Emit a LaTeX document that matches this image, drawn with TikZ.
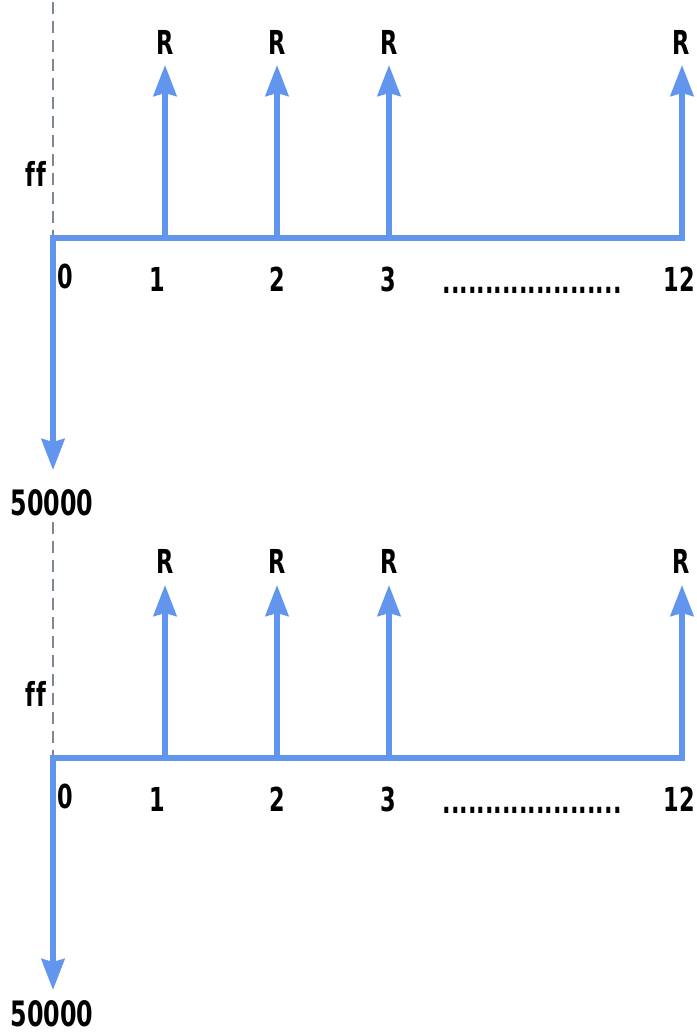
\documentclass[tikz,border=0pt]{standalone}
\usepackage{fontspec}
\setmainfont{DejaVu Sans}[FakeStretch=0.68,Ligatures=NoCommon]
\usepackage{xcolor}
\usetikzlibrary{arrows.meta}
\definecolor{flowblue}{RGB}{98,150,238}
\definecolor{guidegray}{RGB}{125,135,155}

\begin{document}
\begin{tikzpicture}[x=1pt,y=-1pt,
font=\fontsize{33}{38}\selectfont\bfseries,
flow/.style={draw=flowblue,line width=5.5pt},
pay/.style={flow,-{Stealth[length=31pt,width=23pt,inset=3pt]}},
frame/.style={flow,{Stealth[length=31pt,width=23pt,inset=3pt]}-{Stealth[length=31pt,width=23pt,inset=3pt]}},
guide/.style={draw=guidegray,line width=1.8pt,dash pattern=on 12pt off 7pt},
lbl/.style={inner sep=0pt},
big/.style={font=\fontsize{35}{40}\selectfont\bfseries}]
\useasboundingbox (0,0) rectangle (696,1035);
% upper diagram
\coordinate (topa) at (53,2); \coordinate (oa) at (53,238); \coordinate (ea) at (682,238);
\coordinate (ma) at (53,470);
\coordinate (b1a) at (165,238); \coordinate (b2a) at (277,238); \coordinate (b3a) at (389,238);
\coordinate (h1a) at (165,65); \coordinate (h2a) at (277,65); \coordinate (h3a) at (389,65);
\coordinate (h12a) at (682,65);
\draw[guide] (topa)--(oa);
\draw[frame] (h12a)--(ea)--(oa)--(ma);
\draw[pay] (b1a)--(h1a);\draw[pay] (b2a)--(h2a);\draw[pay] (b3a)--(h3a);
\node[lbl] (r1a) at (165,42) {R};
\node[lbl] (r2a) at (277,42) {R};
\node[lbl] (r3a) at (389,42) {R};
\node[lbl] (r12a) at (681,42) {R};
\node[lbl] (ffa) at (36,174) {f\kern1ptf};
\node[lbl] (n0a) at (65,276) {0};
\node[lbl] (n1a) at (157,279) {1};
\node[lbl] (n2a) at (277,279) {2};
\node[lbl] (n3a) at (388,279) {3};
\node[lbl] (dotsa) at (532,290) {.....................};
\node[lbl] (n12a) at (679,279) {12};
\node[lbl,big] (pva) at (52,503) {50000};
% lower diagram
\coordinate (topb) at (53,522); \coordinate (ob) at (53,758); \coordinate (eb) at (682,758);
\coordinate (mb) at (53,990);
\coordinate (b1b) at (165,758); \coordinate (b2b) at (277,758); \coordinate (b3b) at (389,758);
\coordinate (h1b) at (165,585); \coordinate (h2b) at (277,585); \coordinate (h3b) at (389,585);
\coordinate (h12b) at (682,585);
\draw[guide] (topb)--(ob);
\draw[frame] (h12b)--(eb)--(ob)--(mb);
\draw[pay] (b1b)--(h1b);\draw[pay] (b2b)--(h2b);\draw[pay] (b3b)--(h3b);
\node[lbl] (r1b) at (165,561) {R};
\node[lbl] (r2b) at (277,561) {R};
\node[lbl] (r3b) at (389,561) {R};
\node[lbl] (r12b) at (681,561) {R};
\node[lbl] (ffb) at (36,694) {f\kern1ptf};
\node[lbl] (n0b) at (65,796) {0};
\node[lbl] (n1b) at (157,799) {1};
\node[lbl] (n2b) at (277,799) {2};
\node[lbl] (n3b) at (388,799) {3};
\node[lbl] (dotsb) at (532,810) {.....................};
\node[lbl] (n12b) at (679,799) {12};
\node[lbl,big] (pvb) at (52,1014) {50000};
\end{tikzpicture}
\end{document}
